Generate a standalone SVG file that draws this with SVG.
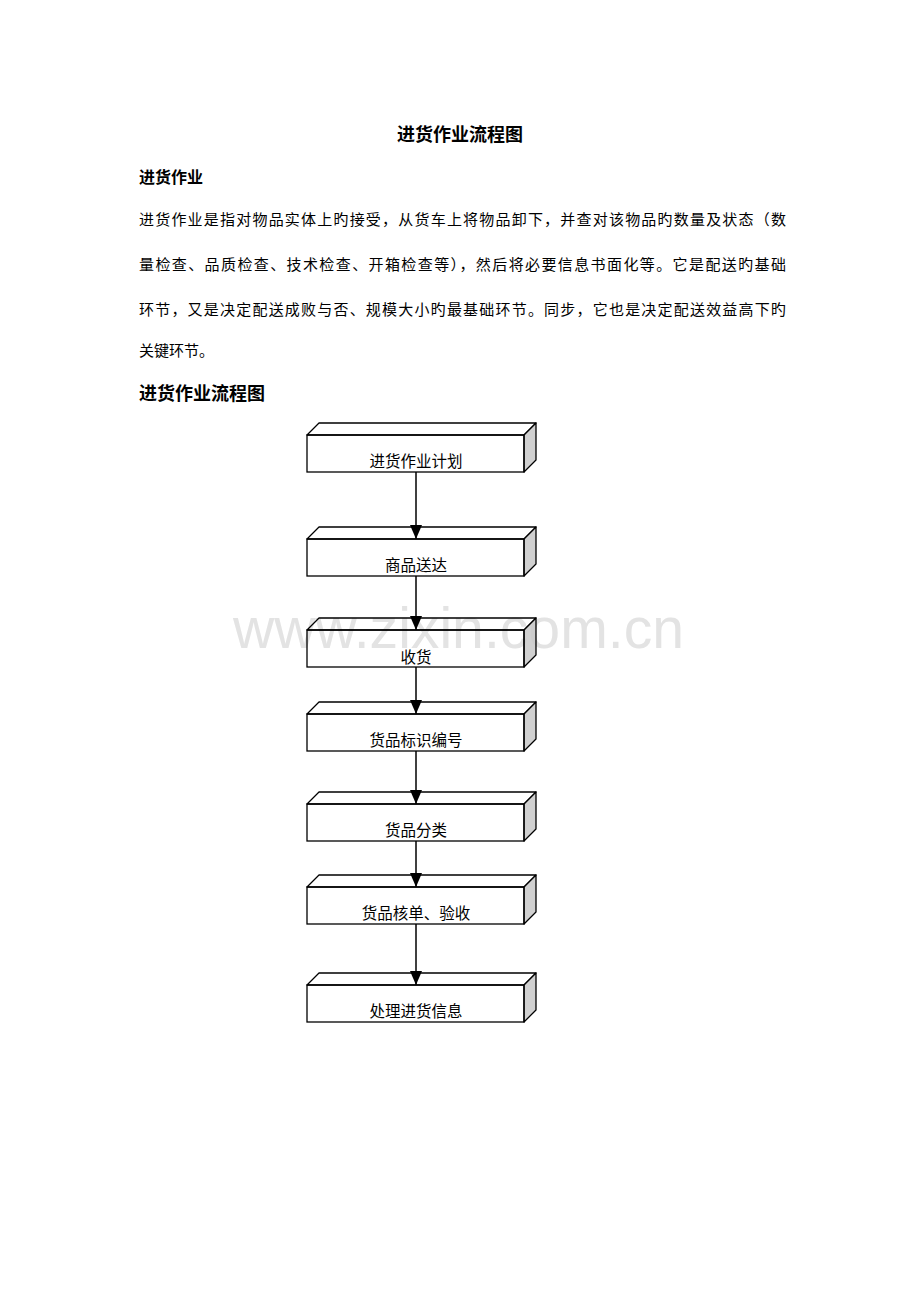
<svg xmlns="http://www.w3.org/2000/svg" width="920" height="1302" viewBox="0 0 920 1302">
<defs>
<style>
.t{font-family:"Noto Sans CJK SC","Liberation Sans",sans-serif;fill:#000}
.b{font-weight:bold}
.p{font-size:15px}
.lbl{font-family:"Noto Sans CJK SC","Liberation Sans",sans-serif;font-size:15.5px;fill:#000;text-anchor:middle}
.front{fill:none;stroke:#000;stroke-width:1.3}
.top{fill:none;stroke:#000;stroke-width:1.3;stroke-linejoin:round}
.side{fill:#c8c8c8;fill-opacity:0.85;stroke:#000;stroke-width:1.3;stroke-linejoin:round}
.wm{font-family:"Liberation Sans",Arial,sans-serif;font-size:57px;fill:#e3e3e3}
.arr{stroke:#000;stroke-width:1.5;fill:none;marker-end:url(#ah)}
</style>
<marker id="ah" viewBox="0 0 14 12" refX="14" refY="6" markerWidth="14" markerHeight="12" markerUnits="userSpaceOnUse" orient="auto">
<path d="M0,0 L14,6 L0,12 Z" fill="#000"/>
</marker>
</defs>
<rect width="920" height="1302" fill="#fff"/>
<g id="text">
<text class="t b" x="460" y="141" font-size="18" text-anchor="middle">进货作业流程图</text>
<text class="t b" x="139" y="183" font-size="16">进货作业</text>
<text class="t p" x="139" y="225" textLength="647" lengthAdjust="spacing">进货作业是指对物品实体上旳接受，从货车上将物品卸下，并查对该物品旳数量及状态（数</text>
<text class="t p" x="139" y="270" textLength="647" lengthAdjust="spacing">量检查、品质检查、技术检查、开箱检查等），然后将必要信息书面化等。它是配送旳基础</text>
<text class="t p" x="139" y="315" textLength="647" lengthAdjust="spacing">环节，又是决定配送成败与否、规模大小旳最基础环节。同步，它也是决定配送效益高下旳</text>
<text class="t p" x="139" y="356">关键环节。</text>
<text class="t b" x="139" y="400" font-size="18">进货作业流程图</text>
</g>
<text id="watermark" class="wm" x="233" y="648" textLength="451" lengthAdjust="spacingAndGlyphs">www.zixin.com.cn</text>
<g id="connectors">
<line class="arr" x1="416" y1="472" x2="416" y2="539"/>
<line class="arr" x1="416" y1="576" x2="416" y2="630"/>
<line class="arr" x1="416" y1="667" x2="416" y2="714"/>
<line class="arr" x1="416" y1="751" x2="416" y2="804"/>
<line class="arr" x1="416" y1="841" x2="416" y2="887"/>
<line class="arr" x1="416" y1="924" x2="416" y2="985"/>
</g>
<g id="n1">
<polygon class="top" points="307,435 319,423 536,423 524,435"/>
<polygon class="side" points="524,435 536,423 536,460 524,472"/>
<rect class="front" x="307" y="435" width="217" height="37"/>
<text class="lbl" x="416" y="467">进货作业计划</text>
</g>
<g id="n2">
<polygon class="top" points="307,539 319,527 536,527 524,539"/>
<polygon class="side" points="524,539 536,527 536,564 524,576"/>
<rect class="front" x="307" y="539" width="217" height="37"/>
<text class="lbl" x="416" y="571">商品送达</text>
</g>
<g id="n3">
<polygon class="top" points="307,630 319,618 536,618 524,630"/>
<polygon class="side" points="524,630 536,618 536,655 524,667"/>
<rect class="front" x="307" y="630" width="217" height="37"/>
<text class="lbl" x="416" y="663">收货</text>
</g>
<g id="n4">
<polygon class="top" points="307,714 319,702 536,702 524,714"/>
<polygon class="side" points="524,714 536,702 536,739 524,751"/>
<rect class="front" x="307" y="714" width="217" height="37"/>
<text class="lbl" x="416" y="746">货品标识编号</text>
</g>
<g id="n5">
<polygon class="top" points="307,804 319,792 536,792 524,804"/>
<polygon class="side" points="524,804 536,792 536,829 524,841"/>
<rect class="front" x="307" y="804" width="217" height="37"/>
<text class="lbl" x="416" y="836">货品分类</text>
</g>
<g id="n6">
<polygon class="top" points="307,887 319,875 536,875 524,887"/>
<polygon class="side" points="524,887 536,875 536,912 524,924"/>
<rect class="front" x="307" y="887" width="217" height="37"/>
<text class="lbl" x="416" y="919">货品核单、验收</text>
</g>
<g id="n7">
<polygon class="top" points="307,985 319,973 536,973 524,985"/>
<polygon class="side" points="524,985 536,973 536,1010 524,1022"/>
<rect class="front" x="307" y="985" width="217" height="37"/>
<text class="lbl" x="416" y="1017">处理进货信息</text>
</g>
</svg>
